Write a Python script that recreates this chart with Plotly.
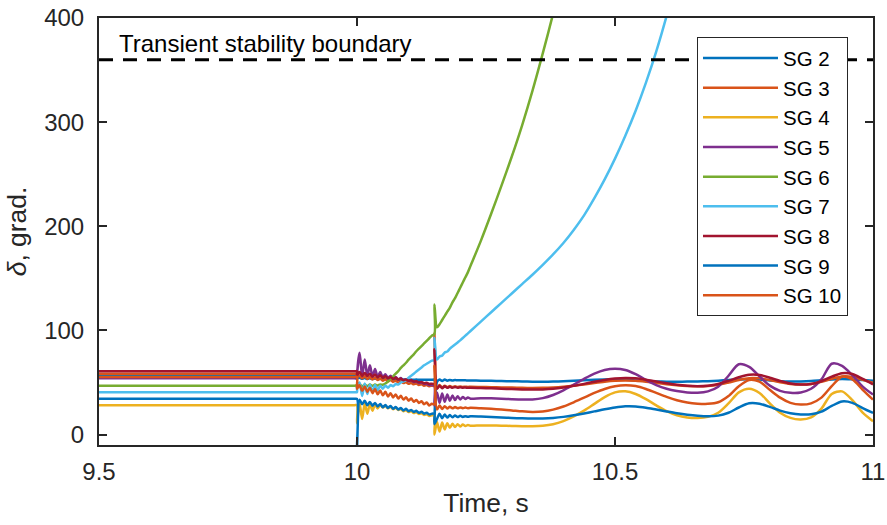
import plotly.graph_objects as go

# Sampling instants (s): steady state, fault at 10.0 s, clearing at 10.15 s, slow swing
t_steady = [9.5, 9.995, 10.0, 10.0]
t_fault = [10.005, 10.01, 10.015, 10.02, 10.025, 10.03, 10.035, 10.04, 10.045, 10.05,
           10.055, 10.06, 10.065, 10.07, 10.075, 10.08, 10.085, 10.09, 10.095, 10.1,
           10.105, 10.11, 10.115, 10.12, 10.125, 10.13, 10.135, 10.14, 10.145]
t_clear = [10.15, 10.15]
t_post = [10.155, 10.16, 10.165, 10.17, 10.175, 10.18, 10.185, 10.19, 10.195, 10.2,
          10.205, 10.21, 10.215, 10.22]
t_swing = [10.24, 10.26, 10.28, 10.3, 10.32, 10.34, 10.36, 10.38, 10.4, 10.42,
           10.44, 10.46, 10.48, 10.5, 10.52, 10.54, 10.56, 10.58, 10.6, 10.62,
           10.64, 10.66, 10.68, 10.7, 10.72, 10.74, 10.76, 10.78, 10.8, 10.82,
           10.84, 10.86, 10.88, 10.9, 10.92, 10.94, 10.96, 10.98, 11.0]
time = t_steady + t_fault + t_clear + t_post + t_swing

# Rotor angles, degrees
sg2 = ([57, 57, 57, 54] +
       [54.5, 53.5, 54.3, 53.4, 54.0, 53.3, 53.8, 53.2, 53.6, 53.1,
        53.4, 53.0, 53.2, 52.9, 53.1, 52.8, 53.0, 52.8, 52.9, 52.7,
        52.8, 52.7, 52.8, 52.6, 52.7, 52.6, 52.7, 52.6, 52.6] +
       [52.6, 13] +
       [50.5, 53.0, 51.5, 52.8, 51.8, 52.5, 52.0, 52.3, 52.1, 52.2, 52.1, 52.1, 52.0, 52.0] +
       [51.8, 51.6, 51.4, 51.2, 51.0, 50.8, 50.8, 50.9, 51.2, 51.7,
        52.2, 52.7, 53.0, 53.0, 52.6, 52.0, 51.4, 51.0, 50.8, 50.8,
        50.9, 51.0, 51.3, 51.8, 52.4, 53.0, 53.2, 52.8, 52.0, 51.3,
        51.0, 51.0, 51.4, 52.2, 53.0, 53.4, 53.0, 52.3, 51.6])

sg3 = ([58.3, 58.3, 58.3, 55.0] +
       [56.7, 54.0, 56.0, 53.4, 55.2, 52.9, 54.5, 52.4, 53.8, 51.8,
        53.1, 51.2, 52.4, 50.6, 51.7, 50.0, 51.0, 49.5, 50.3, 48.8,
        49.6, 48.3, 49.0, 47.6, 48.3, 47.0, 47.7, 46.4, 47.0] +
       [46.8, 97] +
       [44.5, 47.5, 45.2, 47.0, 45.5, 46.6, 45.7, 46.3, 45.8, 46.1, 45.8, 46.0, 45.8, 45.9] +
       [45.7, 45.5, 45.3, 45.1, 44.9, 44.8, 44.9, 45.3, 46.0, 47.0,
        48.2, 49.5, 50.7, 51.6, 52.0, 51.7, 50.8, 49.6, 48.4, 47.4,
        46.7, 46.4, 46.7, 47.8, 50.0, 52.5, 54.2, 54.0, 52.3, 50.2,
        48.6, 48.0, 48.6, 50.6, 53.6, 55.8, 55.4, 52.6, 49.6])

sg4 = ([28.2, 28.2, 28.2, 11] +
       [30.0, 15.0, 30.0, 20.0, 29.5, 23.0, 29.0, 25.0, 28.5, 26.0,
        27.7, 25.2, 26.6, 24.3, 25.7, 23.5, 24.6, 22.5, 23.6, 21.6,
        22.6, 20.7, 21.6, 19.8, 20.5, 18.9, 19.6, 17.9, 18.6] +
       [18.5, 0] +
       [12.0, 3.0, 11.5, 5.0, 11.0, 6.5, 10.5, 7.2, 10.0, 7.8, 9.6, 8.2, 9.3, 8.5] +
       [8.8, 8.7, 8.5, 8.3, 8.0, 8.0, 8.5, 10.0, 13.0, 17.5,
        23.0, 29.5, 36.0, 40.5, 41.5, 39.0, 34.0, 28.0, 22.5, 18.5,
        16.5, 16.0, 17.0, 21.0, 30.0, 40.5, 44.0, 40.0, 30.0, 21.0,
        16.0, 14.5, 16.5, 25.0, 39.0, 41.5, 33.0, 21.0, 12.8])

sg5 = ([54, 54, 54, 56] +
       [78.5, 56.0, 72.0, 56.5, 66.5, 56.0, 63.0, 55.5, 60.0, 55.0,
        58.0, 54.3, 56.6, 53.6, 55.4, 52.8, 54.3, 52.0, 53.2, 51.2,
        52.1, 50.4, 51.0, 49.5, 49.9, 48.6, 48.8, 47.6, 47.6] +
       [47.0, 28] +
       [40.5, 30.5, 39.5, 31.5, 38.5, 32.5, 37.6, 33.2, 36.8, 33.8, 36.2, 34.2, 35.7, 34.5] +
       [35.0, 34.8, 34.4, 34.0, 33.7, 33.8, 35.0, 38.0, 42.5, 48.0,
        53.5, 58.5, 62.0, 63.2, 62.0, 58.0, 52.5, 47.5, 44.0, 41.8,
        40.5, 40.2, 41.5, 46.0, 56.5, 67.5, 65.0, 56.0, 47.0, 42.0,
        40.2, 40.5, 44.0, 53.0, 68.0, 66.0, 57.0, 46.0, 38.4])

sg6 = ([47, 47, 47, 45] +
       [48.5, 46.0, 48.2, 46.4, 48.0, 46.8, 48.0, 47.2, 48.2, 47.8,
        49.0, 51.0, 53.5, 56.0, 58.5, 61.0, 64.0, 66.5, 69.0, 72.0,
        74.5, 77.0, 80.0, 82.5, 85.0, 87.5, 90.0, 92.5, 95.0] +
       [96.5, 125] +
       [103, 106, 110, 114, 118, 122, 127, 131, 136, 141, 146, 151, 156, 162] +
       [186, 212, 239, 267, 297, 330, 366, 404, 445] + [None] * 30)

sg7 = ([40.7, 40.7, 40.7, 46] +
       [50.0, 37.0, 49.0, 39.0, 48.0, 41.0, 47.5, 42.5, 47.0, 44.0,
        47.0, 45.0, 47.5, 46.5, 48.5, 48.0, 50.0, 51.0, 52.5, 54.5,
        56.5, 58.5, 60.5, 62.5, 64.5, 66.5, 68.0, 69.5, 71.0] +
       [71.5, 93] +
       [72.0, 75.0, 75.8, 78.8, 79.8, 82.5, 84.5, 86.5, 88.5, 90.5, 92.7, 95.0, 97.2, 99.5] +
       [108.5, 117.5, 126.5, 135.5, 144.5, 153.5, 163, 173, 184, 196.5,
        210.5, 227, 245, 265, 287, 311, 338, 368, 402, 440] + [None] * 19)

sg8 = ([60.8, 60.8, 60.8, 57] +
       [60.0, 56.6, 59.2, 56.2, 58.4, 55.6, 57.6, 55.1, 56.9, 54.6,
        56.1, 54.0, 55.3, 53.4, 54.5, 52.8, 53.7, 52.2, 52.9, 51.6,
        52.1, 50.9, 51.3, 50.2, 50.5, 49.4, 49.7, 48.6, 48.9] +
       [48.5, 82] +
       [44.0, 46.8, 44.6, 46.3, 44.9, 45.9, 45.0, 45.6, 45.0, 45.4, 45.0, 45.2, 44.9, 45.0] +
       [44.7, 44.4, 44.0, 43.7, 43.4, 43.2, 43.4, 44.0, 45.2, 46.8,
        48.7, 50.7, 52.5, 53.8, 54.4, 54.0, 52.7, 51.0, 49.3, 47.8,
        46.8, 46.4, 46.9, 48.6, 51.6, 55.0, 57.4, 57.2, 54.6, 51.4,
        49.0, 48.0, 48.6, 51.2, 55.6, 59.0, 58.2, 53.4, 48.2])

sg9 = ([34.3, 34.3, 34.3, -13] +
       [33.5, 29.1, 32.6, 28.2, 31.4, 27.8, 30.4, 27.0, 29.4, 26.3,
        28.4, 25.6, 27.5, 24.8, 26.5, 24.0, 25.6, 23.2, 24.7, 22.4,
        23.7, 21.7, 22.8, 20.9, 21.9, 20.1, 21.0, 19.3, 20.1] +
       [19.8, 10] +
       [15.0, 20.0, 15.8, 19.2, 16.3, 18.7, 16.6, 18.3, 16.8, 18.0, 17.0, 17.7, 17.1, 17.5] +
       [17.3, 16.9, 16.5, 16.0, 15.6, 15.4, 15.5, 16.0, 17.0, 18.5,
        20.3, 22.3, 24.3, 26.0, 27.1, 27.0, 25.8, 24.0, 22.2, 20.5,
        19.1, 18.1, 17.6, 18.2, 21.0, 26.0, 30.0, 29.6, 26.6, 23.0,
        20.5, 19.3, 19.5, 22.0, 27.5, 31.8, 30.5, 25.5, 20.8])

sg10 = ([55.4, 55.4, 55.4, 44] +
        [47.5, 42.0, 46.2, 41.0, 45.0, 39.8, 43.7, 38.7, 42.4, 37.7,
         41.1, 36.6, 39.8, 35.6, 38.6, 34.6, 37.2, 33.6, 35.9, 32.6,
         34.6, 31.5, 33.3, 30.4, 32.0, 29.2, 30.8, 28.0, 29.6] +
        [29.0, 66] +
        [24.0, 28.0, 24.6, 27.3, 25.0, 26.8, 25.2, 26.4, 25.3, 26.1, 25.4, 25.9, 25.4, 25.7] +
        [25.3, 24.7, 24.0, 23.2, 22.3, 21.8, 22.2, 24.0, 27.0, 31.0,
         35.5, 40.0, 43.8, 46.4, 47.4, 46.6, 43.8, 40.0, 36.2, 33.0,
         30.8, 29.7, 29.5, 31.0, 37.0, 46.5, 52.5, 50.8, 43.0, 35.5,
         30.5, 28.8, 30.0, 35.5, 46.5, 55.5, 53.0, 43.0, 33.6])

names = ["SG 2", "SG 3", "SG 4", "SG 5", "SG 6", "SG 7", "SG 8", "SG 9", "SG 10"]
series = [sg2, sg3, sg4, sg5, sg6, sg7, sg8, sg9, sg10]
colors = ["#0072BD", "#D95319", "#EDB120", "#7E2F8E", "#77AC30",
          "#4DBEEE", "#A2142F", "#0072BD", "#D95319"]

boundary = 360
x_ticks = [9.5, 10, 10.5, 11]
x_ticklabels = ["9.5", "10", "10.5", "11"]
y_ticks = [0, 100, 200, 300, 400]

FONT = "Liberation Sans, Arial, sans-serif"
AXIS = "#262626"

fig = go.Figure()
for name, vals, color in zip(names, series, colors):
    fig.add_trace(go.Scatter(x=time, y=vals, mode="lines", name=name,
                             line=dict(color=color, width=2.5,
                                       shape="spline", smoothing=0.8)))

# stability limit
fig.add_shape(type="line", xref="x", yref="y", x0=9.5, x1=11,
              y0=boundary, y1=boundary, layer="above",
              line=dict(color="black", width=3, dash="14px,10px"))
fig.add_annotation(x=9.534, y=376, xref="x", yref="y", xanchor="left",
                   yanchor="middle", showarrow=False,
                   text="Transient stability boundary",
                   font=dict(family=FONT, size=24, color="black"))

axis_common = dict(ticks="inside", ticklen=8, tickwidth=1.5, tickcolor=AXIS,
                   showline=True, linecolor=AXIS, linewidth=2, mirror="ticks",
                   showgrid=False, zeroline=False, automargin=False,
                   tickfont=dict(family=FONT, size=24, color=AXIS))

fig.update_xaxes(range=[9.5, 11], tickvals=x_ticks, ticktext=x_ticklabels,
                 ticklabelstandoff=4,
                 title=dict(text="Time, s", standoff=10,
                            font=dict(family=FONT, size=26.4, color=AXIS)),
                 **axis_common)
fig.update_yaxes(range=[-10, 400], tickvals=y_ticks, ticklabelstandoff=8,
                 title=dict(text="<i>δ</i>, grad.", standoff=10,
                            font=dict(family=FONT, size=26.4, color=AXIS)),
                 **axis_common)

fig.update_layout(
    template="none",
    width=887, height=525,
    margin=dict(l=99, r=14, t=18, b=80, autoexpand=False),
    paper_bgcolor="white", plot_bgcolor="white",
    font=dict(family=FONT, color=AXIS),
    legend=dict(x=0.7726, y=0.955, xanchor="left", yanchor="top",
                bgcolor="white", bordercolor=AXIS, borderwidth=1,
                itemwidth=75, tracegroupgap=0,
                font=dict(family=FONT, size=20.5, color="black")),
)

fig.write_html("out.html")
